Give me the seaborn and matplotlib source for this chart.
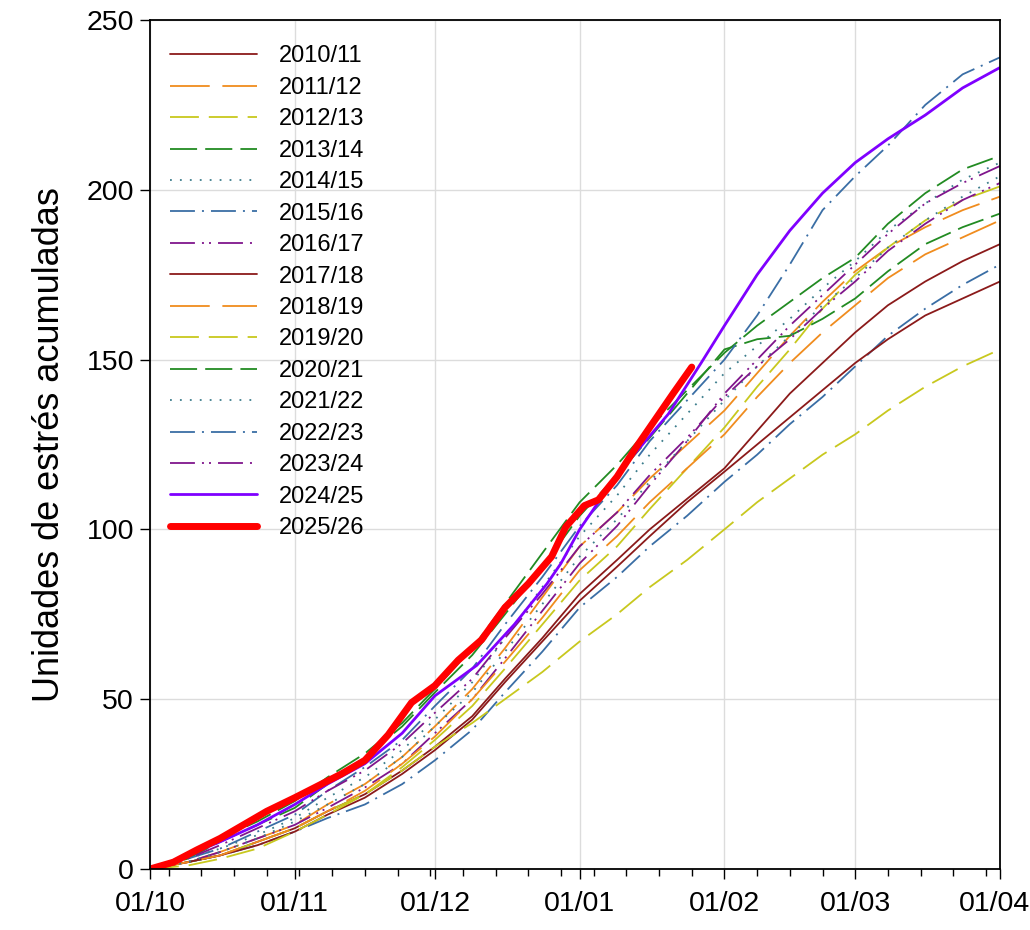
import matplotlib
matplotlib.use("Agg")
from matplotlib import pyplot as plt
import matplotlib.transforms as mtransforms
import seaborn as sns

# Eje x: días desde el 1 de octubre
days = [0, 8, 15, 23, 31, 38, 46, 54, 61, 69, 76, 84, 92, 100, 107, 115, 123,
        130, 137, 144, 151, 158, 166, 174, 182]
month_days = [0, 31, 61, 92, 123, 151, 182]
month_labels = ["01/10", "01/11", "01/12", "01/01", "01/02", "01/03", "01/04"]
week_days = list(range(4, 183, 7))

s2010 = [0, 2, 4, 8, 12, 17, 22, 29, 36, 45, 56, 68, 81, 91, 100, 109, 118, 129, 140, 149, 158, 166, 173, 179, 184]
s2011 = [0, 2, 5, 9, 13, 19, 25, 33, 42, 53, 65, 80, 95, 105, 115, 125, 135, 146, 157, 167, 176, 183, 189, 194, 198]
s2012 = [0, 2, 4, 8, 12, 17, 22, 30, 38, 48, 59, 72, 85, 95, 106, 118, 130, 142, 153, 165, 175, 183, 191, 197, 201]
s2013 = [0, 4, 9, 14, 20, 27, 34, 43, 53, 65, 78, 93, 108, 119, 130, 141, 152, 160, 167, 174, 180, 190, 199, 206, 210]
s2014 = [0, 3, 6, 10, 15, 21, 27, 35, 44, 55, 68, 83, 98, 110, 122, 134, 146, 154, 162, 171, 179, 188, 196, 203, 208]
s2015 = [0, 2, 4, 7, 11, 15, 19, 25, 32, 41, 52, 64, 77, 86, 95, 104, 114, 122, 131, 139, 148, 157, 165, 172, 178]
s2016 = [0, 2, 5, 9, 13, 18, 24, 31, 40, 50, 62, 76, 90, 101, 113, 126, 140, 150, 160, 169, 178, 187, 196, 202, 207]
s2017 = [0, 2, 4, 7, 11, 16, 21, 28, 35, 44, 55, 67, 79, 89, 98, 108, 117, 125, 133, 141, 149, 156, 163, 168, 173]
s2018 = [0, 2, 4, 8, 12, 17, 23, 31, 39, 50, 61, 74, 88, 98, 108, 118, 128, 139, 149, 158, 166, 174, 181, 186, 191]
s2019 = [0, 1, 3, 6, 11, 16, 22, 29, 36, 43, 50, 58, 67, 75, 83, 91, 100, 108, 115, 122, 128, 135, 142, 148, 153]
s2020 = [0, 3, 8, 13, 18, 25, 33, 42, 52, 63, 75, 89, 104, 116, 127, 140, 153, 156, 157, 162, 168, 176, 184, 189, 193]
s2021 = [0, 2, 5, 9, 14, 19, 25, 33, 42, 52, 64, 78, 92, 103, 114, 126, 138, 148, 157, 166, 174, 183, 191, 198, 204]
s2022 = [0, 3, 6, 11, 16, 23, 30, 38, 48, 59, 72, 86, 101, 113, 126, 138, 150, 163, 178, 194, 204, 213, 225, 234, 239]
s2023 = [0, 3, 7, 12, 17, 23, 29, 37, 46, 56, 68, 81, 95, 105, 116, 127, 139, 148, 156, 165, 173, 182, 190, 197, 202]

days_2024 = [0, 8, 15, 23, 31, 38, 46, 54, 61, 70, 78, 85, 88, 92, 96, 103, 111, 118,
             123, 130, 137, 144, 151, 158, 166, 174, 182]
s2024 = [0, 4, 8, 13, 19, 25, 31, 40, 51, 60, 72, 84, 90, 100, 108, 121, 134, 149,
         160, 175, 188, 199, 208, 215, 222, 230, 236]

days_2025 = [0, 5, 10, 15, 20, 25, 31, 36, 41, 46, 51, 56, 61, 66, 71, 76, 81, 86,
             89, 93, 96, 100, 104, 108, 112, 116]
s2025 = [0, 2, 5.6, 9, 13, 17, 21, 24.5, 28, 32, 39.5, 49, 54, 61.5, 67.5, 77, 84, 92,
         100.7, 107, 108.7, 115.5, 124, 132, 140, 147.8]

# estilos: color, grosor, patrón de trazos (en unidades del grosor)
maroon = "#8B1A1A"
orange = "#F08C1E"
yellow = "#C8C81E"
green = "#228B22"
teal = "#3C7D8C"
blue = "#3A6EA5"
purple = "#80168C"
dash_long = (0, (22, 7))
dash_mid = (0, (16, 5.5))
dash_short = (0, (15, 4.5))
dots = (0, (1, 4.5))
dash_dot = (0, (13.8, 3.9, 1.1, 3.9))
dash_dot_dot = (0, (13.8, 3.9, 1.1, 2.8, 1.1, 3.9))

series = [
    ("2010/11", days, s2010, maroon, 1.3, "-"),
    ("2011/12", days, s2011, orange, 1.3, dash_long),
    ("2012/13", days, s2012, yellow, 1.3, dash_mid),
    ("2013/14", days, s2013, green, 1.3, dash_short),
    ("2014/15", days, s2014, teal, 1.3, dots),
    ("2015/16", days, s2015, blue, 1.3, dash_dot),
    ("2016/17", days, s2016, purple, 1.3, dash_dot_dot),
    ("2017/18", days, s2017, maroon, 1.3, "-"),
    ("2018/19", days, s2018, orange, 1.3, dash_long),
    ("2019/20", days, s2019, yellow, 1.3, dash_mid),
    ("2020/21", days, s2020, green, 1.3, dash_short),
    ("2021/22", days, s2021, teal, 1.3, dots),
    ("2022/23", days, s2022, blue, 1.3, dash_dot),
    ("2023/24", days, s2023, purple, 1.3, dash_dot_dot),
    ("2024/25", days_2024, s2024, "#7F00FF", 2.0, "-"),
    ("2025/26", days_2025, s2025, "#FF0000", 5.0, "-"),
]

sns.set_style("white")
plt.rcParams["font.family"] = ["Liberation Sans", "DejaVu Sans"]
plt.rcParams["text.color"] = "black"
plt.rcParams["axes.labelcolor"] = "black"
plt.rcParams["xtick.color"] = "black"
plt.rcParams["ytick.color"] = "black"

fig = plt.figure(figsize=(10.3, 9.3), dpi=100)
ax = fig.add_axes([150 / 1030, 1 - 869 / 930, 850 / 1030, 849 / 930])

for name, x, y, color, lw, ls in series:
    sns.lineplot(x=x, y=y, ax=ax, color=color, linewidth=lw, linestyle=ls,
                 label=name, solid_capstyle="round")

ax.set_xlim(0, 182)
ax.set_ylim(0, 250)
ax.set_xticks(month_days)
ax.set_xticklabels(month_labels)
ax.set_xticks(week_days, minor=True)
ax.set_yticks([0, 50, 100, 150, 200, 250])

ax.grid(True, which="major", color="#dcdcdc", linewidth=1)
ax.set_axisbelow(True)
ax.tick_params(axis="both", which="both", bottom=True, left=True, top=False, right=False)
ax.tick_params(axis="both", which="major", direction="out", length=7.5, width=1,
               labelsize=20.5, labelcolor="black")
ax.tick_params(axis="x", which="major", pad=8)
ax.tick_params(axis="y", which="major", pad=4)
ax.tick_params(axis="x", which="minor", direction="out", length=5, width=1)
ax.tick_params(axis="y", which="minor", left=False)

# la última etiqueta queda pegada al borde, se corre un poco a la izquierda
last = ax.get_xticklabels()[-1]
last.set_transform(last.get_transform() + mtransforms.ScaledTranslation(-6 / 100, 0, fig.dpi_scale_trans))

for sp in ax.spines.values():
    sp.set_color("black")
    sp.set_linewidth(1.3)

ax.set_xlabel("")
ax.set_ylabel("Unidades de estrés acumuladas", fontsize=26, labelpad=14)

leg = ax.legend(loc="upper left", bbox_to_anchor=(0.0235, 0.97), frameon=False,
                fontsize=17, handlelength=3.7, handletextpad=0.9, labelspacing=0.4,
                borderpad=0, borderaxespad=0)

fig.savefig("out.png", dpi=100)
